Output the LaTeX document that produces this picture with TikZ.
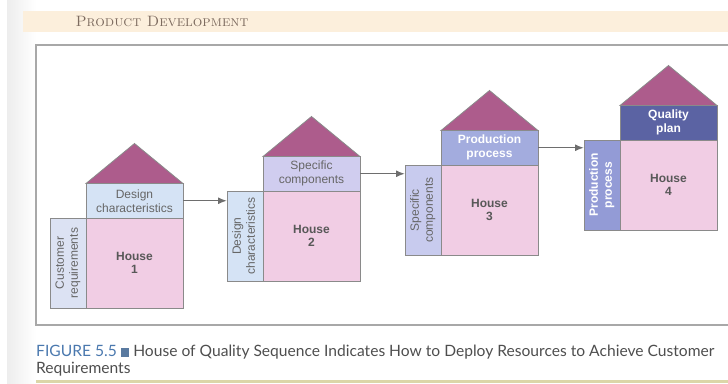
\documentclass[tikz,border=0pt]{standalone}
\usepackage{graphicx}
\usepackage{fontspec}
\newfontfamily\arialfont{Liberation Sans}
\newfontfamily\latofont{Lato}
\usetikzlibrary{arrows.meta,positioning}

\definecolor{roofc}{HTML}{AD5C8C}
\definecolor{pinkc}{HTML}{F1CDE4}
\definecolor{lineg}{HTML}{8A8A8A}
\definecolor{arrowg}{HTML}{6E6E6E}
\definecolor{textg}{HTML}{666666}
\definecolor{houseg}{HTML}{585858}
\definecolor{blueA}{HTML}{D5E3F5}
\definecolor{blueB}{HTML}{DCE2F3}
\definecolor{lavA}{HTML}{D0CDEF}
\definecolor{lavB}{HTML}{C8CBEE}
\definecolor{lavC}{HTML}{A3ACDE}
\definecolor{lavD}{HTML}{939BD6}
\definecolor{slate}{HTML}{5B63A3}
\definecolor{peach}{HTML}{FCEFDC}
\definecolor{hdrc}{HTML}{7D6B5F}
\definecolor{capblue}{HTML}{4A78AE}
\definecolor{capg}{HTML}{4E4E4E}
\definecolor{framec}{HTML}{A8A8A8}
\definecolor{olive}{HTML}{DCD6A8}

\newcommand{\uplabel}[2]{\rotatebox{90}{\begin{tabular}{@{}c@{}}#1\\#2\end{tabular}}}

\tikzset{
    box/.style={draw=lineg, line width=0.8pt, inner sep=0pt, outer sep=0pt, align=center,
        text=textg, font=\arialfont\fontsize{12}{14}\selectfont},
    mainbox/.style={box, fill=pinkc, minimum width=97pt, minimum height=90pt,
        text=houseg, font=\arialfont\bfseries\fontsize{12}{13.5}\selectfont},
    topbox/.style={box, minimum width=97pt, minimum height=34.5pt},
    sidebox/.style={box, minimum width=36pt, minimum height=90pt},
    strong/.style={text=white, font=\arialfont\bfseries\fontsize{12}{14}\selectfont},
    roof/.style={fill=roofc, draw=lineg, line width=0.8pt},
    flow/.style={draw=arrowg, line width=1.4pt, -{Latex[length=9pt,width=7pt]}}
}

\begin{document}
\begin{tikzpicture}[x=1pt, y=-1pt]

\useasboundingbox (0,0) rectangle (728,383);

\shade [left color=gray!14, right color=white] (7,0) rectangle (36,383);
\fill [peach] (23,11) rectangle (728,32);
\fill [olive] (36,380) rectangle (728,383);
\draw [framec, line width=1.2pt] (729,45) -- (36,45) -- (36,325) -- (729,325);

\node [anchor=west, text=hdrc, font=\fontsize{15}{15}\selectfont\scshape] (hdr) at (72,21) {Product Development};

\node [mainbox, anchor=north west] (h1) at (86,218) {House\\1};
\node [topbox, fill=blueA, above=0pt of h1] (h1top) {Design\\characteristics};
\node [sidebox, fill=blueB, left=0pt of h1] (h1side) {\uplabel{Customer}{requirements}};

\node [mainbox, anchor=north west] (h2) at (263,191) {House\\2};
\node [topbox, fill=lavA, above=0pt of h2] (h2top) {Specific\\components};
\node [sidebox, fill=blueA, left=0pt of h2] (h2side) {\uplabel{Design}{characteristics}};

\node [mainbox, anchor=north west] (h3) at (441,165) {House\\3};
\node [topbox, fill=lavC, strong, above=0pt of h3] (h3top) {Production\\process};
\node [sidebox, fill=lavB, left=0pt of h3] (h3side) {\uplabel{Specific}{components}};

\node [mainbox, anchor=north west] (h4) at (620,140) {House\\4};
\node [topbox, fill=slate, strong, above=0pt of h4] (h4top) {Quality\\plan};
\node [sidebox, fill=lavD, strong, left=0pt of h4] (h4side) {\uplabel{Production}{process}};

\foreach \i in {h1top,h2top,h3top,h4top}
    \draw [roof] (\i.north west) -- ([yshift=40pt]\i.north) -- (\i.north east) -- cycle;

\draw [flow] (h1top.east) -- (h2side.west |- h1top.east);
\draw [flow] (h2top.east) -- (h3side.west |- h2top.east);
\draw [flow] (h3top.east) -- (h4side.west |- h3top.east);

\node [anchor=north west, align=left, inner sep=0pt, text=capg, font=\latofont\fontsize{15.6}{16.5}\selectfont] (cap) at (36,345)
    {{\color{capblue}FIGURE 5.5} {\color{capblue!70!gray}\rule{8.5pt}{8.5pt}} House of Quality Sequence Indicates How to Deploy Resources to Achieve Customer\\Requirements};

\end{tikzpicture}
\end{document}
